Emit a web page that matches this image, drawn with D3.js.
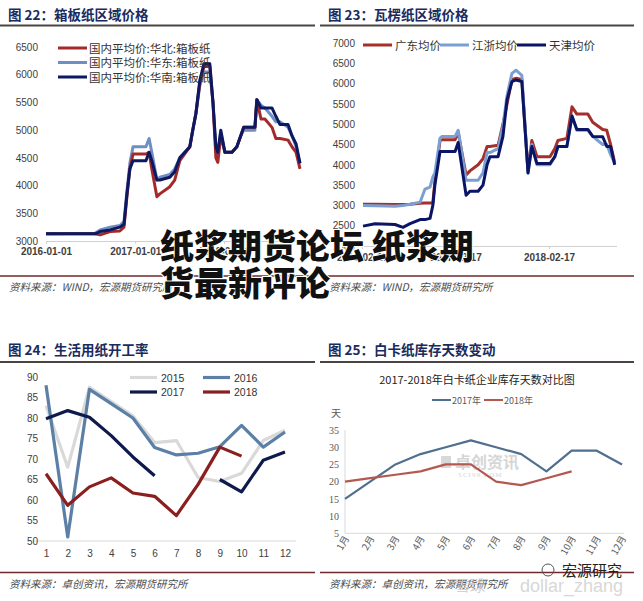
<!DOCTYPE html>
<html><head><meta charset="utf-8">
<script src="https://cdn.jsdelivr.net/npm/d3@7"></script>
<style>
body{margin:0;background:#fff;}
svg{display:block;}
</style></head>
<body>
<svg id="c" width="643" height="601"></svg>
<script>
// ---------- DATA ----------
// Panel 1: 箱板纸区域价格
const p1Dates = ["2016-01-01","2016-07-20","2016-08-10","2016-09-20","2016-10-30","2016-11-16","2016-11-28","2016-12-10","2016-12-23","2017-02-14","2017-02-27","2017-03-10","2017-03-31","2017-04-12","2017-05-23","2017-06-12","2017-07-03","2017-08-13","2017-08-25","2017-09-07","2017-09-23","2017-10-10","2017-11-03","2017-11-16","2017-11-28","2017-12-06","2017-12-18","2018-01-04","2018-02-02","2018-02-22","2018-03-10","2018-03-22","2018-05-07","2018-05-15","2018-06-01","2018-06-17","2018-07-16","2018-08-01","2018-08-18","2018-09-20","2018-10-06","2018-10-23","2018-11-08"];
const p1North = [3130,3130,3110,3170,3180,3250,3800,4300,4570,4570,4600,4300,3800,3850,3980,4100,4450,4700,5000,5300,5850,6150,6150,5500,4500,4420,4900,4600,4600,4700,4900,5050,5050,5550,5200,5200,5050,4850,4850,4820,4700,4600,4300];
const p1East  = [3130,3140,3200,3250,3280,3350,3900,4400,4700,4700,4850,4600,4100,4150,4200,4300,4500,4700,5000,5300,5800,6050,6050,5500,4600,4550,4950,4600,4600,4700,4900,5000,5000,5550,5450,5400,5250,5150,5150,5050,4900,4700,4400];
const p1South = [3130,3130,3170,3200,3250,3300,3850,4300,4450,4450,4600,4450,4100,4100,4150,4250,4500,4700,5000,5300,5900,6200,6200,5500,4700,4600,5000,4600,4600,4700,4900,5050,5050,5550,5400,5400,5400,5250,5100,5100,4900,4750,4400];
const p1Names = ["国内平均价:华北:箱板纸","国内平均价:华东:箱板纸","国内平均价:华南:箱板纸"];
const p1YTicks = [3000,3500,4000,4500,5000,5500,6000,6500];
const p1XTicks = ["2016-01-01","2017-01-01","2018-01-01"];

// Panel 2: 瓦楞纸区域价格
const p2Dates = ["2016-02-21","2016-04-08","2016-06-25","2016-07-26","2016-08-23","2016-10-01","2016-10-20","2016-11-09","2016-11-20","2016-11-28","2016-12-18","2016-12-26","2017-02-15","2017-02-27","2017-03-30","2017-04-14","2017-05-16","2017-06-04","2017-06-20","2017-07-01","2017-08-02","2017-08-21","2017-09-06","2017-09-25","2017-10-11","2017-11-03","2017-11-27","2017-12-12","2018-01-01","2018-02-21","2018-03-12","2018-03-24","2018-04-28","2018-05-18","2018-06-06","2018-07-19","2018-08-07","2018-09-15","2018-10-01","2018-10-16","2018-11-01"];
const p2Guangdong = [3030,3030,3020,3020,3030,3050,3060,3060,3060,3600,4600,4620,4620,4800,3750,3850,4000,4150,4450,4450,4480,5000,5500,6100,6130,6100,3850,4600,4200,4200,4400,4600,4650,5430,5250,5250,5050,4870,4850,4500,4050];
const p2Jiangzhe = [3000,2990,2980,3000,3030,3080,3400,3450,3700,3800,4650,4700,4700,4850,3620,3620,3620,3800,4300,4300,4400,4950,5700,6250,6330,6200,3800,4500,4000,4000,4200,4450,4450,5200,4850,4850,4700,4500,4500,4250,4050];
const p2Tianjin = [2490,2550,2530,2460,2550,2650,2650,2680,3000,3500,4330,4330,4330,4550,3250,3350,3350,3500,4000,4200,4200,4700,5600,6050,6090,6050,3800,4450,4030,4030,4200,4450,4450,5200,4870,4870,4700,4690,4450,4450,4000];
const p2Names = ["广东均价","江浙均价","天津均价"];
const p2YTicks = [2000,2500,3000,3500,4000,4500,5000,5500,6000,6500,7000];
const p2XTicks = ["2016-02-17","2017-02-17","2018-02-17"];

// Panel 3: 生活用纸开工率
const p3Months = [1,2,3,4,5,6,7,8,9,10,11,12];
const p3Y2015 = [83,68,87.5,84,80.5,74,74.5,65.5,64.5,66.5,74.5,77];
const p3Y2016 = [88,51,87,83.5,80,72.8,71,71.4,73,78.2,72.9,76.6];
const p3Y2017 = [79.8,81.8,80.2,75.7,70.5,65.9,null,null,65,62,69.7,71.7];
const p3Y2018 = [66.4,58.7,63.2,65.4,61.7,60.9,56.2,63.8,72.9,70.7,null,null];
const p3YTicks = [50,55,60,65,70,75,80,85,90];

// Panel 4: 白卡纸库存天数
const p4Months = ["1月","2月","3月","4月","5月","6月","7月","8月","9月","10月","11月","12月"];
const p4Y2017 = [15,20,25,28,30,32,30,28,23,29,29,25];
const p4Y2018 = [20,21,22,23,25,25,20,19,21,23,null,null];
const p4YTicks = [5,10,15,20,25,30,35];

// ---------- DRAW ----------
const svg = d3.select("#c");
const parse = d3.timeParse("%Y-%m-%d");
const fmt = d3.timeFormat("%Y-%m-%d");
const CJK = "'Noto Sans CJK SC', sans-serif";
const LAT = "'Liberation Sans', Arial, sans-serif";

function frame(x0, x1, titleY, ruleY, botY, srcY, title, src){
  svg.append("text").attr("x", x0+8).attr("y", titleY)
    .attr("font-family", CJK).attr("font-weight", 700).attr("font-size", 13.5)
    .attr("fill", "#1a2b5e").text(title);
  svg.append("line").attr("x1", x0).attr("x2", x1).attr("y1", ruleY).attr("y2", ruleY)
    .attr("stroke", "#4a4444").attr("stroke-width", 1.8);
  svg.append("line").attr("x1", x0).attr("x2", x1).attr("y1", botY).attr("y2", botY)
    .attr("stroke", "#6e2a2a").attr("stroke-width", 1.4);
  svg.append("text").attr("x", x0+9).attr("y", srcY)
    .attr("font-family", "'Noto Sans CJK SC', serif").attr("font-style", "italic")
    .attr("font-size", 10.5).attr("fill", "#4a4a4a").text(src);
}

frame(0, 315, 20, 25.5, 276, 291, "图 22：箱板纸区域价格", "资料来源：WIND，宏源期货研究所");
frame(320, 634, 20, 25.5, 276, 291, "图 23：瓦楞纸区域价格", "资料来源：WIND，宏源期货研究所");
frame(0, 315, 355, 362, 572.5, 588, "图 24：生活用纸开工率", "资料来源：卓创资讯，宏源期货研究所");
frame(320, 634, 355, 362, 572.5, 588, "图 25：白卡纸库存天数变动", "资料来源：卓创资讯，宏源期货研究所");

function yAxisLabels(g, y, ticks, x, font, color, size){
  g.append("g").attr("transform", `translate(${x},0)`)
    .call(d3.axisLeft(y).tickValues(ticks).tickFormat(d3.format("d")).tickSize(0).tickPadding(0))
    .call(a => a.select(".domain").remove())
    .call(a => a.selectAll("text").attr("font-family", font).attr("font-size", size).attr("fill", color));
}

// ---- Panel 1
{
  const g = svg.append("g");
  const x = d3.scaleTime().domain([parse("2016-01-01"), parse("2018-11-08")]).range([46, 300]);
  const y = d3.scaleLinear().domain([3000, 6500]).range([241, 47]);
  g.append("g").attr("transform", "translate(0,241)")
    .call(d3.axisBottom(x).tickValues(p1XTicks.map(parse)).tickFormat(fmt).tickSizeInner(3).tickSizeOuter(0).tickPadding(4))
    .call(a => a.select(".domain").attr("stroke", "#d0d0d0"))
    .call(a => a.selectAll(".tick line").attr("stroke", "#d0d0d0"))
    .call(a => a.selectAll("text").attr("font-family", LAT).attr("font-size", 10).attr("font-weight", 700).attr("fill", "#404040"));
  yAxisLabels(g, y, p1YTicks, 38, LAT, "#404040", 10);
  const series = [
    {v: p1East, c: "#6f8fc4"},
    {v: p1North, c: "#a32a2a"},
    {v: p1South, c: "#0c1862"}
  ];
  const line = d3.line().x((d,i)=>x(parse(p1Dates[i]))).y(d=>y(d));
  series.forEach(s => g.append("path").datum(s.v).attr("d", line)
    .attr("fill","none").attr("stroke", s.c).attr("stroke-width", 3).attr("stroke-linejoin","round"));
  const legC = ["#a32a2a", "#6f8fc4", "#0c1862"];
  p1Names.forEach((n,i) => {
    const ly = 48 + i*14.5;
    g.append("line").attr("x1", 58).attr("x2", 87).attr("y1", ly).attr("y2", ly)
      .attr("stroke", legC[i]).attr("stroke-width", 3);
    g.append("text").attr("x", 89).attr("y", ly+4.5).attr("font-family", CJK)
      .attr("font-size", 11.5).attr("fill", "#333").text(n);
  });
}

// ---- Panel 2
{
  const g = svg.append("g");
  const x = d3.scaleTime().domain([parse("2016-02-17"), parse("2018-11-08")]).range([362, 616.5]);
  const y = d3.scaleLinear().domain([2000, 7000]).range([246, 43]);
  g.append("g").attr("transform", "translate(0,246)")
    .call(d3.axisBottom(x).tickValues(p2XTicks.map(parse)).tickFormat(fmt).tickSizeInner(3).tickSizeOuter(0).tickPadding(5))
    .call(a => a.select(".domain").attr("stroke", "#d0d0d0"))
    .call(a => a.selectAll(".tick line").attr("stroke", "#d0d0d0"))
    .call(a => a.selectAll("text").attr("font-family", LAT).attr("font-size", 10).attr("font-weight", 700).attr("fill", "#404040"));
  yAxisLabels(g, y, p2YTicks, 355, LAT, "#404040", 10);
  const series = [
    {v: p2Guangdong, c: "#a3302b"},
    {v: p2Jiangzhe, c: "#7b9fd2"},
    {v: p2Tianjin, c: "#0a1566"}
  ];
  const line = d3.line().x((d,i)=>x(parse(p2Dates[i]))).y(d=>y(d));
  series.forEach(s => g.append("path").datum(s.v).attr("d", line)
    .attr("fill","none").attr("stroke", s.c).attr("stroke-width", 3).attr("stroke-linejoin","round"));
  const legX = [363, 440, 517];
  p2Names.forEach((n,i) => {
    g.append("line").attr("x1", legX[i]).attr("x2", legX[i]+29).attr("y1", 45).attr("y2", 45)
      .attr("stroke", series[i].c).attr("stroke-width", 3);
    g.append("text").attr("x", legX[i]+32).attr("y", 49.5).attr("font-family", CJK)
      .attr("font-size", 11.5).attr("fill", "#333").text(n);
  });
}

// ---- Panel 3
{
  const g = svg.append("g");
  const x = d3.scaleLinear().domain([1, 12]).range([46, 285]);
  const y = d3.scaleLinear().domain([50, 90]).range([541, 377]);
  g.append("g").attr("transform", "translate(0,541)")
    .call(d3.axisBottom(x).tickValues(p3Months).tickFormat(d3.format("d")).tickSize(0).tickPadding(9))
    .call(a => a.select(".domain").attr("d", "M34,0H296").attr("stroke", "#d9d9d9"))
    .call(a => a.selectAll("text").attr("font-family", LAT).attr("font-size", 10).attr("fill", "#404040"));
  yAxisLabels(g, y, p3YTicks, 38, LAT, "#404040", 10);
  const series = [
    {v: p3Y2015, c: "#d9d9d9", n: "2015"},
    {v: p3Y2016, c: "#5b7fa5", n: "2016"},
    {v: p3Y2017, c: "#0e1a4c", n: "2017"},
    {v: p3Y2018, c: "#8a1f1f", n: "2018"}
  ];
  const line = d3.line().defined(d=>d!=null).x((d,i)=>x(p3Months[i])).y(d=>y(d));
  series.forEach(s => g.append("path").datum(s.v).attr("d", line)
    .attr("fill","none").attr("stroke", s.c).attr("stroke-width", 3.2).attr("stroke-linejoin","round"));
  series.forEach((s,i) => {
    const lx = i%2===0 ? 130 : 203, ly = i<2 ? 377.5 : 392;
    g.append("line").attr("x1", lx).attr("x2", lx+27).attr("y1", ly).attr("y2", ly)
      .attr("stroke", s.c).attr("stroke-width", 3.2);
    g.append("text").attr("x", lx+31).attr("y", ly+4).attr("font-family", LAT)
      .attr("font-size", 10.5).attr("fill", "#333").text(s.n);
  });
}

// ---- Panel 4
{
  const g = svg.append("g");
  const x = d3.scalePoint().domain(p4Months).range([345, 622]);
  const y = d3.scaleLinear().domain([5, 35]).range([533.3, 430]);
  // watermark
  g.append("rect").attr("x", 441).attr("y", 456).attr("width", 10).attr("height", 12).attr("fill", "#d8d8d8");
  g.append("text").attr("x", 455).attr("y", 468).attr("font-family", CJK).attr("font-weight", 700)
    .attr("font-size", 16).attr("fill", "#d6d6d6").text("卓创资讯");
  g.append("text").attr("x", 458).attr("y", 477).attr("font-family", "'Liberation Serif', serif")
    .attr("font-size", 7).attr("fill", "#d6d6d6").attr("letter-spacing", 1).text("SCI99.COM");

  g.append("line").attr("x1", 345).attr("x2", 345).attr("y1", 430).attr("y2", 533.3).attr("stroke", "#d9d9d9");
  g.append("g").attr("transform", "translate(0,533.3)")
    .call(d3.axisBottom(x).tickSize(0).tickPadding(0))
    .call(a => a.select(".domain").attr("d", "M345,0H624").attr("stroke", "#d9d9d9"))
    .call(a => a.selectAll("text").attr("font-family", CJK).attr("font-size", 9.5).attr("fill", "#595959")
      .attr("text-anchor", "end").attr("dy", 0).attr("transform", "translate(4,5) rotate(-60)"));
  yAxisLabels(g, y, p4YTicks, 339, "'Liberation Serif', serif", "#595959", 10);
  g.append("text").attr("x", 331).attr("y", 417).attr("font-family", CJK).attr("font-size", 10)
    .attr("fill", "#595959").text("天");
  g.append("text").attr("x", 477).attr("y", 384).attr("text-anchor", "middle")
    .attr("font-family", CJK).attr("font-size", 11).attr("fill", "#222").text("2017-2018年白卡纸企业库存天数对比图");
  const series = [
    {v: p4Y2017, c: "#4f6f8f", n: "2017年"},
    {v: p4Y2018, c: "#b3594f", n: "2018年"}
  ];
  const line = d3.line().defined(d=>d!=null).x((d,i)=>x(p4Months[i])).y(d=>y(d));
  series.forEach(s => g.append("path").datum(s.v).attr("d", line)
    .attr("fill","none").attr("stroke", s.c).attr("stroke-width", 2.2).attr("stroke-linejoin","round"));
  const legX = [432, 484];
  series.forEach((s,i) => {
    g.append("line").attr("x1", legX[i]).attr("x2", legX[i]+19).attr("y1", 400).attr("y2", 400)
      .attr("stroke", s.c).attr("stroke-width", 2);
    g.append("text").attr("x", legX[i]+20).attr("y", 403.5).attr("font-family", CJK)
      .attr("font-size", 9).attr("fill", "#595959").text(s.n);
  });
  // bottom-right watermarks
  svg.append("text").attr("x", 455).attr("y", 591).attr("font-family", CJK).attr("font-size", 15)
    .attr("fill", "#c8c8c8").attr("opacity", 0.8).text("雪球");
  svg.append("text").attr("x", 520).attr("y", 592).attr("font-family", LAT).attr("font-size", 18)
    .attr("fill", "#cfcfcf").attr("opacity", 0.8).text("dollar_zhang");
  svg.append("text").attr("x", 562).attr("y", 576).attr("font-family", CJK).attr("font-size", 15)
    .attr("fill", "#222").text("宏源研究");
  svg.append("circle").attr("cx", 548).attr("cy", 570).attr("r", 6).attr("fill", "none").attr("stroke", "#555").attr("stroke-width", 1);
}

// ---- Overlay headline
const ov = svg.append("g").attr("font-family", CJK).attr("font-weight", 900).attr("font-size", 34)
  .attr("fill", "#111").attr("stroke", "#fff").attr("stroke-width", 2).attr("paint-order", "stroke");
ov.append("text").attr("x", 160).attr("y", 259).text("纸浆期货论坛 纸浆期");
ov.append("text").attr("x", 160).attr("y", 296).text("货最新评论");
</script>
</body></html>
